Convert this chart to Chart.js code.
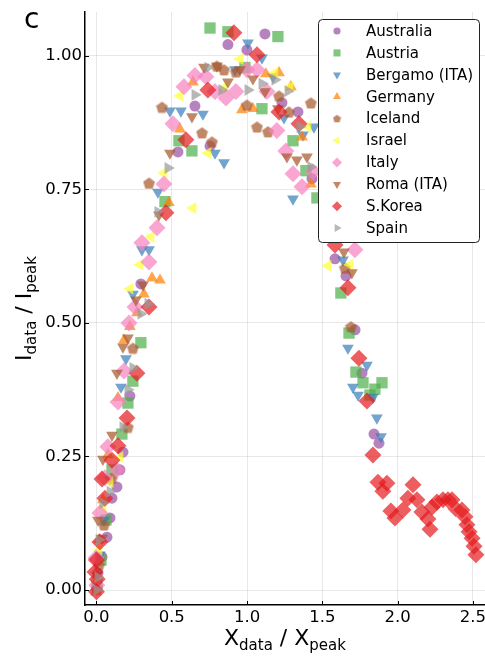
<!DOCTYPE html>
<html><head><meta charset="utf-8">
<script src="https://cdn.jsdelivr.net/npm/chart.js@4.4.1/dist/chart.umd.min.js"></script>
<style>html,body{margin:0;padding:0;background:#fff}#wrap{width:485px;height:658px;position:relative}</style>
</head><body><div id="wrap"><canvas id="c"></canvas></div>
<script>
const seriesNames = ['Australia','Austria','Bergamo (ITA)','Germany','Iceland','Israel','Italy','Roma (ITA)','S.Korea','Spain'];
const australia = [[0.873,1.021],[1.119,1.041],[0.999,1.011],[0.654,0.906],[1.232,0.912],[1.338,0.895],[0.754,0.831],[0.541,0.820],[1.431,0.770],[1.584,0.620],[1.657,0.588],[1.717,0.487],[1.763,0.406],[1.843,0.292],[1.876,0.275],[0.295,0.573],[0.222,0.363],[0.176,0.258],[0.156,0.225],[0.136,0.193],[0.103,0.172],[0.090,0.135],[0.070,0.099],[0.037,0.062],[0.010,0.032],[0.003,0.004]];
const austria = [[0.754,1.052],[0.873,1.045],[1.205,1.036],[0.986,0.978],[1.099,0.901],[0.548,0.841],[0.634,0.822],[1.305,0.841],[1.391,0.785],[0.455,0.727],[1.464,0.734],[0.295,0.463],[0.242,0.391],[0.209,0.350],[0.169,0.292],[1.623,0.556],[1.677,0.481],[1.723,0.408],[1.770,0.388],[1.896,0.388],[1.849,0.376],[1.816,0.365],[0.103,0.225],[0.063,0.131],[0.030,0.056],[0.003,0.009]];
const bergamo = [[1.006,1.024],[1.099,0.996],[0.920,0.974],[1.172,0.961],[0.488,0.897],[0.561,0.897],[0.707,0.891],[1.245,0.884],[0.787,0.818],[0.847,0.800],[0.408,0.745],[1.305,0.732],[1.444,0.867],[1.371,0.852],[1.637,0.618],[1.670,0.453],[1.796,0.421],[1.703,0.380],[1.737,0.365],[1.836,0.361],[1.862,0.322],[1.889,0.287],[0.196,0.433],[0.163,0.380],[0.242,0.554],[0.302,0.637],[0.349,0.637],[0.090,0.206],[0.050,0.131],[0.023,0.066],[0.003,0.009]];
const germany = [[1.125,0.966],[1.212,0.968],[0.641,0.951],[1.291,0.942],[0.966,0.899],[1.039,0.901],[0.554,0.863],[1.365,0.848],[1.424,0.760],[0.481,0.725],[0.369,0.584],[0.422,0.580],[0.315,0.554],[0.269,0.519],[0.222,0.493],[0.183,0.468],[0.143,0.360],[0.076,0.253],[0.043,0.169],[0.017,0.094],[-0.003,-0.004]];
const iceland = [[0.435,0.904],[0.800,0.981],[0.847,0.974],[0.926,0.970],[0.999,0.908],[1.066,0.867],[1.139,0.858],[1.212,0.925],[1.278,0.895],[1.424,0.912],[0.701,0.856],[0.767,0.839],[0.349,0.762],[1.650,0.603],[1.690,0.493],[0.242,0.453],[0.209,0.305],[0.103,0.210],[0.050,0.122],[0.017,0.047],[0.003,0.004]];
const israel = [[0.953,0.994],[1.185,0.968],[1.285,0.942],[0.554,0.925],[0.847,0.940],[1.404,0.867],[0.740,0.818],[0.448,0.781],[0.362,0.661],[0.641,0.715],[1.537,0.607],[1.683,0.609],[0.222,0.564],[0.289,0.609],[0.156,0.249],[0.090,0.202],[0.043,0.154],[0.017,0.075],[0.003,0.019]];
const italy = [[0.654,0.963],[0.727,0.961],[0.581,0.942],[0.787,0.933],[0.860,0.921],[0.926,0.933],[0.999,0.974],[1.066,0.974],[1.132,0.933],[0.508,0.873],[1.198,0.860],[1.258,0.822],[1.305,0.779],[1.365,0.755],[1.437,0.783],[0.448,0.760],[0.402,0.678],[0.302,0.650],[1.716,0.637],[0.349,0.614],[0.256,0.530],[0.216,0.500],[0.183,0.410],[0.143,0.352],[0.076,0.268],[0.136,0.225],[0.056,0.210],[0.023,0.144],[-0.003,0.060],[0.003,0.009]];
const roma = [[0.714,0.979],[0.800,0.981],[0.953,0.974],[0.873,0.951],[1.039,0.957],[1.119,0.933],[0.634,0.886],[0.488,0.818],[1.205,0.901],[1.265,0.811],[1.331,0.805],[1.398,0.811],[0.415,0.702],[1.696,0.594],[1.643,0.633],[0.309,0.571],[0.262,0.543],[0.209,0.472],[0.176,0.455],[0.136,0.406],[0.103,0.290],[0.043,0.245],[0.010,0.131],[0.037,0.097],[0.003,0.028]];
const skorea = [[0.913,1.043],[1.066,1.002],[0.740,0.936],[1.212,0.895],[1.345,0.873],[0.594,0.843],[0.461,0.706],[1.584,0.646],[1.670,0.566],[1.743,0.434],[1.796,0.354],[1.836,0.253],[1.869,0.202],[1.929,0.200],[1.902,0.185],[1.955,0.148],[1.982,0.135],[2.035,0.150],[2.068,0.172],[2.102,0.197],[2.128,0.169],[2.161,0.146],[2.201,0.133],[2.215,0.114],[2.228,0.155],[2.261,0.165],[2.301,0.169],[2.334,0.169],[2.361,0.169],[2.387,0.152],[2.427,0.150],[2.447,0.137],[2.460,0.122],[2.474,0.109],[2.494,0.097],[2.507,0.082],[2.520,0.066],[0.349,0.530],[0.269,0.406],[0.203,0.322],[0.143,0.270],[0.103,0.243],[0.037,0.208],[0.056,0.172],[0.023,0.090],[0.000,0.056],[-0.010,0.034],[0.005,0.020],[0.000,-0.003]];
const spain = [[0.740,0.978],[0.833,0.936],[1.006,0.936],[1.099,0.948],[1.185,0.955],[1.272,0.934],[0.654,0.927],[0.475,0.790],[0.408,0.708],[1.351,0.867],[1.424,0.792],[0.342,0.536],[0.295,0.517],[0.242,0.416],[0.209,0.375],[0.176,0.305],[0.090,0.184],[0.043,0.163],[0.017,0.094],[0.010,0.024],[0.003,0.000]];
const xTicks = [0, 0.5, 1.0, 1.5, 2.0, 2.5];
const yTicks = [0, 0.25, 0.5, 0.75, 1.0];

const allSeries = [australia, austria, bergamo, germany, iceland, israel, italy, roma, skorea, spain];
const colors = ['rgba(152,78,163,0.7)','rgba(77,175,74,0.7)','rgba(55,126,184,0.7)','rgba(255,127,0,0.7)','rgba(166,86,40,0.7)','rgba(255,255,51,0.7)','rgba(247,129,191,0.7)','rgba(166,86,40,0.7)','rgba(228,26,28,0.7)','rgba(153,153,153,0.7)'];

function makePentagon(size, color) {
  const cv = document.createElement('canvas');
  cv.width = size; cv.height = size;
  const c = cv.getContext('2d');
  const r = size / 2 - 0.3, cx = size / 2, cy = size / 2 + r * 0.1;
  c.beginPath();
  for (let k = 0; k < 5; k++) {
    const a = -Math.PI / 2 + k * 2 * Math.PI / 5;
    const px = cx + r * Math.cos(a), py = cy + r * Math.sin(a);
    if (k === 0) c.moveTo(px, py); else c.lineTo(px, py);
  }
  c.closePath(); c.fillStyle = color; c.fill();
  return cv;
}
const pentBig = makePentagon(13, colors[4]);
const pentSmall = makePentagon(9, colors[4]);

const styles = [
  ['circle', 5.5, 0],
  ['rect', 8, 0],
  ['triangle', 6.8, 180],
  ['triangle', 6.8, 0],
  [pentBig, 6, 0],
  ['triangle', 6.8, 270],
  ['rectRot', 8.5, 0],
  ['triangle', 6.8, 180],
  ['rectRot', 8.5, 0],
  ['triangle', 6.8, 90]
];
const legendStyles = [
  ['circle', 3.6, 0],
  ['rect', 5, 0],
  ['triangle', 4.6, 180],
  ['triangle', 4.6, 0],
  [pentSmall, 4, 0],
  ['triangle', 4.6, 270],
  ['rectRot', 5, 0],
  ['triangle', 4.6, 180],
  ['rectRot', 5, 0],
  ['triangle', 4.6, 90]
];

const datasets = allSeries.map((arr, i) => ({
  label: seriesNames[i],
  data: arr.map(([x, y]) => ({x, y})),
  pointStyle: styles[i][0],
  pointRadius: styles[i][1],
  pointHoverRadius: styles[i][1],
  pointRotation: styles[i][2],
  pointBackgroundColor: colors[i],
  backgroundColor: colors[i],
  pointBorderWidth: 0,
  borderWidth: 0,
  showLine: false,
  order: 10 - i
}));

function drawMarker(ctx, style, r, rot, x, y, color) {
  ctx.save();
  ctx.fillStyle = color;
  if (typeof style !== 'string') { ctx.drawImage(style, x - style.width / 2, y - style.height / 2); ctx.restore(); return; }
  ctx.translate(x, y);
  ctx.rotate(rot * Math.PI / 180);
  ctx.beginPath();
  if (style === 'circle') ctx.arc(0, 0, r, 0, Math.PI * 2);
  else if (style === 'rect') { const s = r * Math.SQRT1_2; ctx.rect(-s, -s, 2 * s, 2 * s); }
  else if (style === 'rectRot') { ctx.moveTo(0, -r); ctx.lineTo(r, 0); ctx.lineTo(0, r); ctx.lineTo(-r, 0); ctx.closePath(); }
  else if (style === 'triangle') {
    for (let k = 0; k < 3; k++) { const a = -Math.PI / 2 + k * 2 * Math.PI / 3; const px = r * Math.cos(a), py = r * Math.sin(a); if (k === 0) ctx.moveTo(px, py); else ctx.lineTo(px, py); }
    ctx.closePath();
  }
  ctx.fill();
  ctx.restore();
}

function drawSubText(ctx, parts, mainFont, subFont, subShift) {
  let total = 0;
  const widths = parts.map(([t, sub]) => { ctx.font = sub ? subFont : mainFont; const w = ctx.measureText(t).width; total += w; return w; });
  let x = -total / 2;
  parts.forEach(([t, sub], k) => { ctx.font = sub ? subFont : mainFont; ctx.fillText(t, x, sub ? subShift : 0); x += widths[k]; });
}

const decorPlugin = {
  id: 'decor',
  afterDraw(chart) {
    const ctx = chart.ctx;
    const area = chart.chartArea;
    const xs = chart.scales.x, ys = chart.scales.y;
    ctx.save();
    ctx.strokeStyle = '#000'; ctx.lineWidth = 1;
    xTicks.forEach(v => { const p = Math.round(xs.getPixelForValue(v)) + 0.5; ctx.beginPath(); ctx.moveTo(p, area.bottom); ctx.lineTo(p, area.bottom - 4); ctx.stroke(); });
    yTicks.forEach(v => { const p = Math.round(ys.getPixelForValue(v)) + 0.5; ctx.beginPath(); ctx.moveTo(area.left, p); ctx.lineTo(area.left + 4, p); ctx.stroke(); });
    ctx.fillStyle = '#000';
    ctx.textAlign = 'left'; ctx.textBaseline = 'alphabetic';
    ctx.font = '28px "DejaVu Sans"';
    ctx.fillText('c', 24, 28);
    ctx.save();
    ctx.translate((area.left + area.right) / 2, 645);
    drawSubText(ctx, [['X', false], ['data', true], [' / X', false], ['peak', true]], '22px "DejaVu Sans"', '15px "DejaVu Sans"', 5);
    ctx.restore();
    ctx.save();
    ctx.translate(31, (area.top + area.bottom) / 2);
    ctx.rotate(-Math.PI / 2);
    drawSubText(ctx, [['I', false], ['data', true], [' / I', false], ['peak', true]], '22px "DejaVu Sans"', '15px "DejaVu Sans"', 5);
    ctx.restore();
    const bx = 318.5, by = 19.5, bw = 161, bh = 223, rr = 4;
    ctx.beginPath();
    ctx.moveTo(bx + rr, by); ctx.lineTo(bx + bw - rr, by); ctx.quadraticCurveTo(bx + bw, by, bx + bw, by + rr);
    ctx.lineTo(bx + bw, by + bh - rr); ctx.quadraticCurveTo(bx + bw, by + bh, bx + bw - rr, by + bh);
    ctx.lineTo(bx + rr, by + bh); ctx.quadraticCurveTo(bx, by + bh, bx, by + bh - rr);
    ctx.lineTo(bx, by + rr); ctx.quadraticCurveTo(bx, by, bx + rr, by); ctx.closePath();
    ctx.fillStyle = '#fff'; ctx.fill();
    ctx.strokeStyle = '#222'; ctx.lineWidth = 1; ctx.stroke();
    ctx.font = '15px "DejaVu Sans"'; ctx.textBaseline = 'middle'; ctx.textAlign = 'left';
    seriesNames.forEach((name, i) => {
      const y = 31 + i * 21.9;
      drawMarker(ctx, legendStyles[i][0], legendStyles[i][1], legendStyles[i][2], 337, y, colors[i]);
      ctx.fillStyle = '#000';
      ctx.fillText(name, 366, y + 1);
    });
    ctx.restore();
  }
};

const tickFont = {family: '"DejaVu Sans"', size: 16.5};
new Chart(document.getElementById('c'), {
  type: 'scatter',
  data: {datasets},
  options: {
    responsive: true, maintainAspectRatio: false, animation: false, devicePixelRatio: 1,
    layout: {autoPadding: false, padding: {top: 12, left: 0, right: 0, bottom: 0}},
    plugins: {legend: {display: false}, tooltip: {enabled: false}},
    events: [],
    scales: {
      x: {
        type: 'linear', min: -0.076, max: 2.58,
        afterBuildTicks: s => { s.ticks = xTicks.map(v => ({value: v})); },
        afterFit: s => { s.height = 53; s.paddingLeft = 0; s.paddingRight = 0; },
        ticks: {callback: v => Number(v).toFixed(1), font: tickFont, color: '#000', padding: 3, maxRotation: 0, autoSkip: false},
        grid: {color: 'rgba(0,0,0,0.09)', lineWidth: 1, drawTicks: false},
        border: {color: '#000', width: 1.5}
      },
      y: {
        type: 'linear', min: -0.028, max: 1.082,
        afterBuildTicks: s => { s.ticks = yTicks.map(v => ({value: v})); },
        afterFit: s => { s.width = 85; s.paddingTop = 0; s.paddingBottom = 0; },
        ticks: {callback: v => Number(v).toFixed(2), font: tickFont, color: '#000', padding: 3, autoSkip: false},
        grid: {color: 'rgba(0,0,0,0.09)', lineWidth: 1, drawTicks: false},
        border: {color: '#000', width: 1.5}
      }
    }
  },
  plugins: [decorPlugin]
});
</script>
</body></html>
